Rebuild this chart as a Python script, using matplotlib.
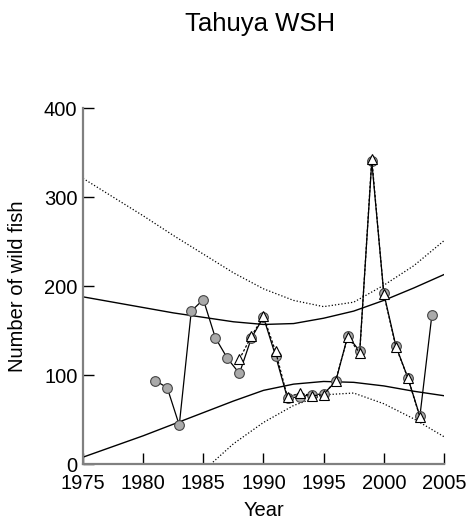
"""Tahuya WSH: wild fish counts with fitted bands."""

import matplotlib

matplotlib.use("Agg")
import matplotlib.pyplot as plt

plt.rcParams["font.family"] = ["Liberation Sans", "DejaVu Sans"]

# observed counts (circles)
YEARS_A = [1981, 1982, 1983, 1984, 1985, 1986, 1987, 1988, 1989, 1990, 1991, 1992,
           1993, 1994, 1995, 1996, 1997, 1998, 1999, 2000, 2001, 2002, 2003, 2004]
COUNT_A = [94, 86, 44, 172, 185, 142, 119, 102, 142, 165, 122, 74,
           76, 78, 79, 93, 144, 127, 340, 192, 133, 97, 54, 168]

# second series (triangles)
YEARS_B = [1988, 1989, 1990, 1991, 1992, 1993, 1994, 1995, 1996, 1997, 1998,
           1999, 2000, 2001, 2002, 2003]
COUNT_B = [118, 144, 166, 127, 75, 80, 77, 78, 94, 143, 125, 343, 191, 132, 97, 53]

# band curves
BAND_X = [1975, 1977.5, 1980, 1982.5, 1985, 1987.5, 1990, 1992.5, 1995, 1997.5,
          2000, 2002.5, 2005]
SOLID_UPPER = [188, 182, 176, 170, 165, 160, 157, 158, 164, 172, 184, 198, 213]
SOLID_LOWER = [8, 20, 32, 45, 58, 71, 83, 90, 93, 92, 88, 82, 77]
DOTTED_UPPER = [321, 300, 279, 257, 236, 215, 197, 184, 177, 182, 201, 223, 251]
DOTTED_LOWER_X = [1985.6, 1987.5, 1990, 1992.5, 1995, 1997.5, 2000, 2002.5, 2005]
DOTTED_LOWER = [0, 23, 47, 66, 78, 80, 68, 51, 31]


def main() -> None:
    fig = plt.figure(figsize=(4.7, 5.19), dpi=100)
    ax = fig.add_axes([0.1766, 0.1054, 0.768, 0.6865])

    ax.plot(BAND_X, SOLID_UPPER, color="black", lw=1.0)
    ax.plot(BAND_X, SOLID_LOWER, color="black", lw=1.0)
    ax.plot(BAND_X, DOTTED_UPPER, color="black", lw=0.9, ls=(0, (1, 1.6)))
    ax.plot(DOTTED_LOWER_X, DOTTED_LOWER, color="black", lw=0.9, ls=(0, (1, 1.6)))

    ax.plot(YEARS_A, COUNT_A, color="black", lw=0.9, marker="o", ms=7,
            mfc="#aaaaaa", mec="#444444", mew=0.8, clip_on=False, zorder=3)
    ax.plot(YEARS_B, COUNT_B, color="black", lw=0.9, ls=(0, (2, 1.5)), marker="^",
            ms=7, mfc="white", mec="black", mew=0.8, clip_on=False, zorder=4)

    ax.set_xlim(1975, 2005)
    ax.set_ylim(0, 400)
    ax.set_xticks(range(1975, 2006, 5))
    ax.set_yticks(range(0, 401, 100))
    ax.tick_params(direction="in", length=8, width=1, colors="black",
                   labelsize=14.5)
    ax.tick_params(axis="y", pad=4)
    ax.tick_params(axis="x", pad=7)
    ax.spines[["top", "right"]].set_visible(False)
    for side in ("left", "bottom"):
        ax.spines[side].set_color("#808080")
        ax.spines[side].set_linewidth(1.6)

    ax.set_xlabel("Year", fontsize=14.5, labelpad=6)
    ax.set_ylabel("Number of wild fish", fontsize=14.5, labelpad=12)
    fig.text(0.553, 0.953, "Tahuya WSH", ha="center", va="center", fontsize=18.5)

    fig.savefig("out.png", dpi=100)
    plt.close(fig)


if __name__ == "__main__":
    main()
